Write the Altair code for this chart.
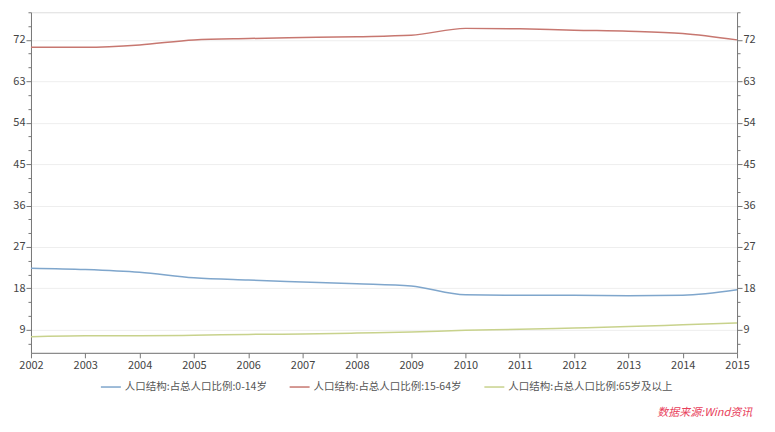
import altair as alt
import pandas as pd

years = list(range(2002, 2016))
series_names = [
    "人口结构:占总人口比例:0-14岁",
    "人口结构:占总人口比例:15-64岁",
    "人口结构:占总人口比例:65岁及以上",
]
age_0_14 = [22.4, 22.1, 21.5, 20.3, 19.8, 19.4, 19.0, 18.5, 16.6, 16.5, 16.5, 16.4, 16.5, 17.7]
age_15_64 = [70.4, 70.4, 70.9, 72.0, 72.3, 72.5, 72.7, 73.0, 74.5, 74.4, 74.1, 73.9, 73.4, 72.0]
age_65 = [7.5, 7.7, 7.7, 7.8, 8.0, 8.1, 8.3, 8.5, 8.9, 9.1, 9.4, 9.7, 10.1, 10.5]
colors = ["#7fa6cc", "#c77770", "#c8d28c"]

rows = []
for name, vals in zip(series_names, [age_0_14, age_15_64, age_65]):
    for yr, v in zip(years, vals):
        rows.append({"year": yr, "value": v, "series": name})
df = pd.DataFrame(rows)

y_ticks = list(range(6, 79, 3))
x_ticks = [2002 + 0.5 * i for i in range(27)]
FONT = "Noto Sans CJK SC"
AX = "#777777"


def y_axis(orient):
    return alt.Axis(
        orient=orient,
        values=y_ticks,
        title=None,
        labelExpr="datum.value % 9 === 0 ? datum.label : ''",
        tickSize={"condition": {"test": "datum.value % 9 === 0", "value": 5}, "value": 3},
        grid=(orient == "left"),
        gridColor="#eeeeee",
        gridOpacity={"condition": {"test": "datum.value % 9 === 0 && datum.value < 78", "value": 1}, "value": 0},
        domainColor=AX,
        tickColor=AX,
        labelColor="#444444",
        labelFontSize=11,
        labelFont=FONT,
        labelPadding=1,
    )


x_enc = alt.X(
    "year:Q",
    scale=alt.Scale(domain=[2002, 2015], nice=False),
    axis=alt.Axis(
        values=x_ticks,
        title=None,
        format="d",
        labelExpr="datum.value % 1 === 0 ? datum.label : ''",
        tickSize={"condition": {"test": "datum.value % 1 === 0", "value": 5}, "value": 3},
        grid=False,
        domainColor=AX,
        tickColor=AX,
        labelColor="#444444",
        labelFontSize=11,
        labelFont=FONT,
        labelPadding=2,
        labelFlush=False,
    ),
)

y_scale = alt.Scale(domain=[4, 78], nice=False, zero=False)

lines = alt.Chart(df).mark_line(strokeWidth=1.5, interpolate="monotone").encode(
    x=x_enc,
    y=alt.Y("value:Q", scale=y_scale, axis=y_axis("left")),
    color=alt.Color(
        "series:N",
        scale=alt.Scale(domain=series_names, range=colors),
        sort=series_names,
        legend=alt.Legend(
            title=None,
            orient="none",
            legendX=69,
            legendY=364,
            direction="horizontal",
            symbolType="stroke",
            symbolSize=400,
            symbolStrokeWidth=1.5,
            labelFontSize=10.5,
            labelFont=FONT,
            labelColor="#555555",
            labelOffset=3,
            columnPadding=19,
            labelLimit=300,
        ),
    ),
)

right = alt.Chart(df).mark_line(strokeOpacity=0).encode(
    x=alt.X("year:Q", scale=alt.Scale(domain=[2002, 2015], nice=False)),
    y=alt.Y("value:Q", scale=y_scale, axis=y_axis("right")),
    detail="series:N",
)

chart = (
    alt.layer(lines, right)
    .resolve_scale(y="independent")
    .properties(
        width=707,
        height=341,
        autosize=alt.AutoSizeParams(type="none"),
        padding={"left": 23, "top": 4, "right": 30, "bottom": 70},
        title=alt.TitleParams(
            "数据来源:Wind资讯",
            orient="bottom",
            anchor="end",
            color="#e8405a",
            fontStyle="italic",
            fontWeight="normal",
            fontSize=11,
            font=FONT,
            offset=14,
            dx=-3,
        ),
    )
    .configure_view(stroke=None)
    .configure(background="white")
)

chart.save("out.html", embed_options={"renderer": "svg", "actions": False})
